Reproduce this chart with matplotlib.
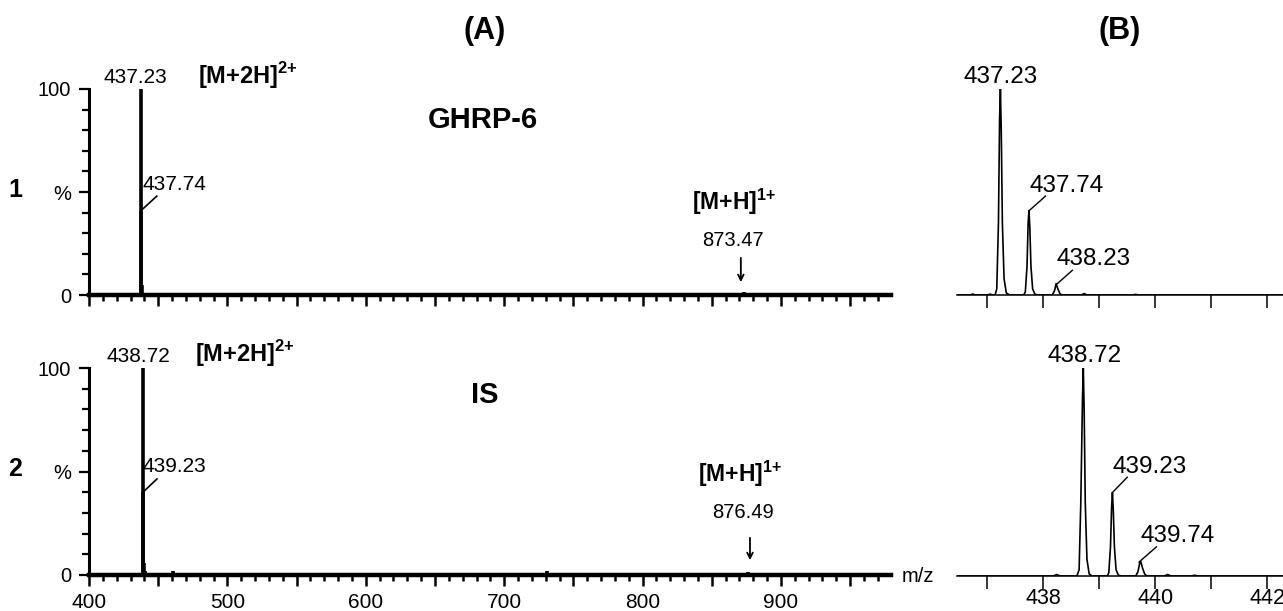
import numpy as np
import matplotlib
matplotlib.use('Agg')
from matplotlib import pyplot as plt
from matplotlib.ticker import MultipleLocator, FixedLocator, FuncFormatter

plt.rcParams['font.family'] = ['Liberation Sans', 'DejaVu Sans']
plt.rcParams['mathtext.fontset'] = 'custom'
plt.rcParams['mathtext.rm'] = 'Liberation Sans'
plt.rcParams['mathtext.bf'] = 'Liberation Sans:bold'

# (A) full scan, stick spectra (m/z, relative intensity %)
ghrp_mz = [437.23, 437.74, 438.23, 507.0, 873.47, 895.5]
ghrp_int = [100, 41, 5, 0.8, 1.5, 1.2]
is_mz = [431.0, 438.72, 439.23, 439.74, 440.2, 460.5, 731.0, 876.49]
is_int = [0.5, 100, 40, 6, 2, 2, 2, 1.5]

# (B) zoomed profile spectra
ghrp_zoom_mz = [436.46, 436.70, 436.74, 436.78, 437.00, 437.05, 437.10, 437.14, 437.17,
                437.20, 437.22, 437.235, 437.25, 437.27, 437.30, 437.34, 437.40, 437.65,
                437.68, 437.71, 437.73, 437.745, 437.76, 437.78, 437.81, 437.85, 437.90,
                438.16, 438.20, 438.23, 438.26, 438.30, 438.34, 438.68, 438.73, 438.78,
                439.60, 439.65, 439.70, 442.28]
ghrp_zoom_int = [0, 0, 0.5, 0, 0, 0.4, 0, 0, 3,
                 35, 85, 100, 80, 35, 8, 1, 0, 0,
                 1.5, 14, 35, 41, 33, 14, 3, 0.4, 0,
                 0, 2, 5.5, 3, 0.5, 0, 0, 0.7, 0,
                 0, 0.3, 0, 0]
is_zoom_mz = [436.46, 437.60, 438.18, 438.24, 438.30, 438.60, 438.64, 438.67, 438.70,
              438.715, 438.73, 438.75, 438.78, 438.82, 438.87, 439.14, 439.17, 439.20,
              439.22, 439.235, 439.25, 439.27, 439.30, 439.34, 439.40, 439.65, 439.69,
              439.72, 439.74, 439.77, 439.81, 439.85, 440.16, 440.22, 440.28, 440.65,
              440.70, 440.75, 442.28]
is_zoom_int = [0, 0, 0, 0.7, 0, 0, 3, 35, 85,
               100, 80, 35, 8, 1, 0, 0, 1.5, 14,
               33, 40, 32, 14, 3, 0.4, 0, 0, 2,
               6, 7, 4, 1, 0, 0, 0.7, 0, 0,
               0.4, 0, 0]

A_LABELS_TOP = [('437.23', 433.2, 103, 'center'), ('437.74', 438.3, 51, 'left')]
A_LABELS_BOT = [('438.72', 435.4, 103, 'center'), ('439.23', 439.0, 50, 'left')]

fig = plt.figure(figsize=(12.83, 6.11), dpi=100)
W, H = 1283.0, 611.0

ION2 = r'[M+2H]$^{\mathbf{2{+}}}$'
ION1 = r'[M+H]$^{\mathbf{1{+}}}$'


def px_axes(left, right, top, bottom):
    return fig.add_axes([left / W, 1 - bottom / H, (right - left) / W, (bottom - top) / H])


def style_a(ax, show_labels):
    ax.set_xlim(400, 979.5)
    ax.set_ylim(0, 100)
    for s in ['top', 'right']:
        ax.spines[s].set_visible(False)
    ax.spines['bottom'].set_linewidth(3.2)
    ax.spines['left'].set_linewidth(2.2)
    ax.xaxis.set_major_locator(MultipleLocator(50))
    ax.xaxis.set_minor_locator(MultipleLocator(10))
    ax.xaxis.set_major_formatter(FuncFormatter(
        lambda v, p: ('%d' % v if (show_labels and int(round(v)) % 100 == 0) else '')))
    ax.yaxis.set_major_locator(FixedLocator([0, 50, 100]))
    ax.yaxis.set_minor_locator(MultipleLocator(10))
    ax.yaxis.set_major_formatter(FuncFormatter(
        lambda v, p: {0: '0', 50: '%', 100: '100'}.get(int(round(v)), '')))
    ax.tick_params(axis='x', which='major', length=8, width=1.8, labelsize=15, pad=5)
    ax.tick_params(axis='x', which='minor', length=4.5, width=1.8)
    ax.tick_params(axis='y', which='major', length=7, width=1.6, labelsize=14.5, pad=6)
    ax.tick_params(axis='y', which='minor', length=5, width=1.6)


def style_b(ax, show_labels):
    ax.set_xlim(436.46, 442.28)
    ax.set_ylim(0, 100)
    for s in ['top', 'right', 'left']:
        ax.spines[s].set_visible(False)
    ax.spines['bottom'].set_linewidth(1.1)
    ax.set_yticks([])
    ax.xaxis.set_major_locator(MultipleLocator(1))
    ax.xaxis.set_major_formatter(FuncFormatter(
        lambda v, p: ('%d' % v if (show_labels and int(round(v)) % 2 == 0) else '')))
    ax.tick_params(axis='x', length=9, width=1.1, labelsize=15.5, pad=0)


# ---- (A) top: GHRP-6
axA1 = px_axes(89, 891, 89, 295)
style_a(axA1, False)
axA1.vlines(ghrp_mz, 0, ghrp_int, color='black', lw=2.6)
for txt, x, y, ha in A_LABELS_TOP:
    axA1.text(x, y, txt, ha=ha, va='baseline', fontsize=15, clip_on=False)
axA1.plot([437.6, 449.0], [41, 48], color='black', lw=1.2)
axA1.text(478.8, 102.4, ION2, fontweight='bold', fontsize=17,
          va='baseline', ha='left', clip_on=False)
axA1.text(684.7, 81, 'GHRP-6', fontweight='bold', fontsize=21, ha='center', va='baseline')
axA1.text(835.7, 41.5, ION1, fontweight='bold', fontsize=16.5, va='baseline', ha='left')
axA1.text(865.3, 23.8, '873.47', fontsize=14.5, ha='center', va='baseline')
axA1.annotate('', xy=(871, 4.9), xytext=(871, 19.4),
              arrowprops=dict(arrowstyle='->', color='black', lw=1.3))

# ---- (A) bottom: IS
axA2 = px_axes(89, 891, 368, 575)
style_a(axA2, True)
axA2.vlines(is_mz, 0, is_int, color='black', lw=2.6)
for txt, x, y, ha in A_LABELS_BOT:
    axA2.text(x, y, txt, ha=ha, va='baseline', fontsize=15, clip_on=False)
axA2.plot([439.0, 449.1], [40, 46.4], color='black', lw=1.2)
axA2.text(476.6, 103, ION2, fontweight='bold', fontsize=17,
          va='baseline', ha='left', clip_on=False)
axA2.text(686.1, 83, 'IS', fontweight='bold', fontsize=21, ha='center', va='baseline')
axA2.text(840, 45, ION1, fontweight='bold', fontsize=16.5, va='baseline', ha='left')
axA2.text(872.5, 27.5, '876.49', fontsize=14.5, ha='center', va='baseline')
axA2.annotate('', xy=(877.6, 5.8), xytext=(877.6, 19.3),
              arrowprops=dict(arrowstyle='->', color='black', lw=1.3))
axA2.text(987.4, -3.2, 'm/z', fontsize=14.5, ha='left', va='baseline', clip_on=False)

# ---- (B) top
axB1 = px_axes(957, 1283, 89, 295)
style_b(axB1, False)
axB1.plot(ghrp_zoom_mz, ghrp_zoom_int, color='black', lw=1.2)
axB1.text(437.24, 103, '437.23', fontsize=17.5, ha='center', va='baseline', clip_on=False)
axB1.text(437.75, 50, '437.74', fontsize=17.5, ha='left', va='baseline')
axB1.plot([437.75, 438.04], [41, 48], color='black', lw=1.0)
axB1.text(438.23, 14.6, '438.23', fontsize=17.5, ha='left', va='baseline')
axB1.plot([438.23, 438.52], [5, 12], color='black', lw=1.0)

# ---- (B) bottom
axB2 = px_axes(957, 1283, 368, 576)
style_b(axB2, True)
axB2.plot(is_zoom_mz, is_zoom_int, color='black', lw=1.2)
axB2.text(438.73, 103, '438.72', fontsize=17.5, ha='center', va='baseline', clip_on=False)
axB2.text(439.23, 49.7, '439.23', fontsize=17.5, ha='left', va='baseline')
axB2.plot([439.23, 439.50], [40, 47.5], color='black', lw=1.0)
axB2.text(439.73, 16.5, '439.74', fontsize=17.5, ha='left', va='baseline')
axB2.plot([439.71, 440.02], [6.7, 14], color='black', lw=1.0)

# panel titles and row numbers
fig.text(485 / W, 1 - 39 / H, '(A)', fontsize=22, fontweight='bold', ha='center', va='baseline')
fig.text(1119.5 / W, 1 - 39 / H, '(B)', fontsize=22, fontweight='bold', ha='center', va='baseline')
fig.text(15 / W, 1 - 197 / H, '1', fontsize=18, fontweight='bold', ha='center', va='baseline')
fig.text(15 / W, 1 - 476 / H, '2', fontsize=18, fontweight='bold', ha='center', va='baseline')

fig.savefig('out.png', dpi=100)
